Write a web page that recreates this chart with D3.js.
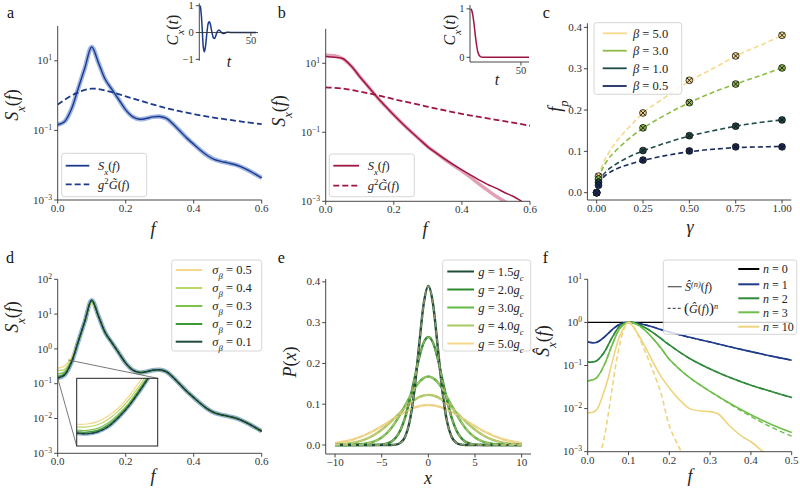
<!DOCTYPE html>
<html><head><meta charset="utf-8">
<script src="https://cdn.jsdelivr.net/npm/d3@7"></script>
<style>
body{margin:0;background:#fff;}
svg text{font-family:"Liberation Serif","DejaVu Serif",serif;}
</style></head><body>
<svg id="c" width="800" height="494" font-family="Liberation Serif, DejaVu Serif, serif"></svg>
<script>
// ================= DATA =================
// Panel a
const fGrid = [0,0.02,0.04,0.06,0.08,0.1,0.12,0.14,0.16,0.18,0.2,0.22,0.24,0.26,0.28,0.3,0.32,0.34,0.36,0.38,0.4,0.42,0.44,0.46,0.48,0.5,0.52,0.54,0.56,0.58,0.6];
const sxA = [0.145,0.178,0.4,1.58,6.3,25,8.7,2.9,1.48,0.76,0.39,0.25,0.21,0.22,0.245,0.25,0.22,0.15,0.095,0.06,0.04,0.027,0.019,0.0148,0.0129,0.0117,0.0105,0.0089,0.0072,0.0056,0.0043];
const fCoarse = [0,0.05,0.1,0.15,0.2,0.25,0.3,0.35,0.4,0.45,0.5,0.55,0.6];
const gA = [0.55,1.12,1.58,1.32,0.95,0.68,0.49,0.37,0.295,0.24,0.204,0.174,0.151];
const tA = [0,1,2,3,4,5,6,7,8,9,10,11,12,13,14,15,16,17,18,19,20,21,22,23,24,25,26,27,28,30,35,40,45,50,55];
const cA = [1,0.65,0.05,-0.55,-0.72,-0.55,-0.2,0.15,0.36,0.4,0.3,0.1,-0.08,-0.2,-0.22,-0.15,-0.04,0.05,0.09,0.08,0.04,0,-0.03,-0.04,-0.03,-0.01,0.01,0.015,0.01,0,0,0,0,0,0];
// Panel b
const fB = [0,0.025,0.05,0.075,0.1,0.125,0.15,0.175,0.2,0.225,0.25,0.275,0.3,0.325,0.35,0.375,0.4,0.425,0.45,0.475,0.5,0.525,0.55,0.575,0.6];
const sxB = [15.8,15,13.8,8.3,4.1,2.1,1.07,0.575,0.316,0.18,0.105,0.063,0.038,0.025,0.0166,0.0115,0.0081,0.0058,0.0042,0.0031,0.0024,0.0018,0.0014,0.001,0.00072];
const simB = [17,16.5,13.5,8.3,4.1,2.1,1.07,0.575,0.316,0.18,0.105,0.063,0.038,0.025,0.0163,0.011,0.0075,0.005,0.0032,0.0021,0.0014,0.001,0.0007,0.0005,0.0004];
const gB = [2.0,1.85,1.51,1.2,0.91,0.71,0.55,0.43,0.34,0.28,0.23,0.19,0.155];
const tB = [0,1,2,3,4,5,6,7,8,9,10,12,15,20,30,40,50,58];
const cB = [1,0.97,0.88,0.74,0.56,0.38,0.23,0.12,0.06,0.025,0.01,0,0,0,0,0,0,0];
// Panel c
const betaLabels = ["5.0","3.0","1.0","0.5"];
const gammaPts = [0,0.01,0.25,0.5,0.75,1.0];
const fpPts = [
  [0.0,0.04,0.193,0.272,0.331,0.381],
  [0.0,0.033,0.157,0.218,0.263,0.302],
  [0.0,0.025,0.102,0.138,0.161,0.176],
  [0.0,0.018,0.079,0.101,0.111,0.111]];
const gammaFit = [0.01,0.03,0.06,0.1,0.15,0.2,0.25,0.35,0.5,0.65,0.75,0.9,1.0];
const fpFit = [
  [0.038,0.066,0.093,0.12,0.147,0.17,0.193,0.225,0.27,0.306,0.331,0.36,0.381],
  [0.033,0.057,0.08,0.1,0.121,0.14,0.156,0.183,0.218,0.247,0.263,0.286,0.302],
  [0.025,0.04,0.055,0.068,0.081,0.092,0.101,0.117,0.137,0.152,0.161,0.171,0.176],
  [0.02,0.034,0.046,0.056,0.065,0.072,0.078,0.088,0.099,0.106,0.109,0.111,0.112]];
// Panel d
const sigmaLabels = ["0.5","0.4","0.3","0.2","0.1"];
const dHead = [ // f = 0, 0.02, 0.04, 0.06, 0.08, 0.1
  [0.28,0.32,0.56,1.58,6.0,20],
  [0.24,0.26,0.5,1.58,6.1,21],
  [0.19,0.22,0.45,1.58,6.2,23],
  [0.16,0.19,0.42,1.58,6.3,24],
  [0.145,0.178,0.4,1.58,6.3,25]];
const dTail = [8.7,2.9,1.48,0.76,0.39,0.25,0.21,0.22,0.245,0.25,0.22,0.15,0.095,0.06,0.04,0.027,0.019,0.0148,0.0129,0.0117,0.0105,0.0089,0.0072,0.0056,0.0043];
const insetF = [0,0.004,0.008,0.012,0.016,0.02,0.024,0.028,0.032];
const insetS = [
  [0.213,0.214,0.223,0.246,0.285,0.35,0.45,0.58,0.72],
  [0.203,0.203,0.211,0.232,0.27,0.33,0.42,0.55,0.69],
  [0.192,0.191,0.198,0.218,0.255,0.31,0.4,0.52,0.66],
  [0.186,0.185,0.191,0.21,0.246,0.3,0.39,0.51,0.64],
  [0.182,0.18,0.186,0.204,0.24,0.295,0.38,0.5,0.63]];
// Panel e
const gLabels = ["1.5","2.0","3.0","4.0","5.0"];
const xE = [-10,-8,-6,-5,-4,-3.5,-3,-2.5,-2,-1.5,-1,-0.5,0,0.5,1,1.5,2,2.5,3,3.5,4,5,6,8,10];
const pE = [
  [0,0,0,0,0.0002,0.0011,0.0053,0.0196,0.058,0.133,0.242,0.346,0.39,0.346,0.242,0.133,0.058,0.0196,0.0053,0.0011,0.0002,0,0,0,0],
  [0,0,0.0001,0.0011,0.0078,0.0177,0.0364,0.0667,0.1096,0.161,0.2125,0.251,0.265,0.251,0.2125,0.161,0.1096,0.0667,0.0364,0.0177,0.0078,0.0011,0.0001,0,0],
  [0,0.0006,0.0069,0.0183,0.0407,0.0567,0.0757,0.0965,0.1178,0.1376,0.154,0.164,0.168,0.164,0.154,0.1376,0.1178,0.0965,0.0757,0.0567,0.0407,0.0183,0.0069,0.0006,0],
  [0.0011,0.0059,0.0222,0.0375,0.0575,0.0687,0.0802,0.0914,0.1017,0.1105,0.1173,0.1215,0.123,0.1215,0.1173,0.1105,0.1017,0.0914,0.0802,0.0687,0.0575,0.0375,0.0222,0.0059,0.0011],
  [0.0048,0.0142,0.0331,0.0461,0.0604,0.0677,0.0747,0.0811,0.0868,0.0916,0.0951,0.0973,0.098,0.0973,0.0951,0.0916,0.0868,0.0811,0.0747,0.0677,0.0604,0.0461,0.0331,0.0142,0.0048]];
// Panel f
const nLabels = ["0","1","2","3","10"];
const fF = [0,0.02,0.04,0.06,0.08,0.1,0.12,0.14,0.16,0.18,0.2,0.25,0.3,0.35,0.4,0.45,0.5];
const sN0 = [1,1,1,1,1,1,1,1,1,1,1,1,1,1,1,1,1];
const sN1 = [0.35,0.34,0.45,0.68,0.92,1.0,0.97,0.88,0.78,0.68,0.6,0.45,0.35,0.27,0.21,0.165,0.133];
const sN2 = [0.12,0.125,0.2,0.45,0.84,1.0,0.93,0.76,0.58,0.42,0.3,0.145,0.083,0.052,0.035,0.025,0.018];
const sN3 = [0.044,0.05,0.1,0.3,0.75,1.0,0.9,0.66,0.42,0.25,0.14,0.052,0.025,0.013,0.0072,0.0043,0.0028];
const gN3 = [0.044,0.05,0.1,0.3,0.75,1.0,0.9,0.66,0.42,0.25,0.14,0.052,0.025,0.0125,0.0066,0.0037,0.0023];
const f10 = [0,0.02,0.04,0.05,0.06,0.08,0.1,0.12,0.14,0.16,0.18,0.2,0.22,0.25,0.28,0.3,0.32,0.35,0.38,0.4,0.43,0.46];
const sN10 = [0.008,0.009,0.025,0.05,0.12,0.52,1.0,0.6,0.28,0.12,0.055,0.03,0.018,0.01,0.0088,0.0085,0.0075,0.0038,0.0022,0.0017,0.001,0.0006];
const f10d = [0.03,0.04,0.05,0.06,0.07,0.08,0.09,0.1,0.11,0.12,0.14,0.15,0.16,0.18,0.2,0.22,0.235];
const gN10 = [0.0008,0.002,0.007,0.03,0.12,0.35,0.75,1.0,0.85,0.6,0.22,0.13,0.075,0.022,0.004,0.0015,0.0008];

// ================= STYLE =================
const FONT = '"Liberation Serif","DejaVu Serif",serif';
const AX = '#333';
const navy = '#1c3a8e', navyL = '#87a3d9';
const crim = '#a01540', crimL = '#dc8fa7';
const cCols = ['#f6da8b','#8dbb46','#1f4b4a','#1b2b5e'];
const dCols = ['#f6d98a','#bcd66e','#7ec24d','#3e9a37','#1f4a3c'];
const eCols = ['#1e4d37','#2d8a2e','#62b946','#a9c963','#f4d98b'];
const fCols = ['#000000','#1e3a8a','#2f8a3a','#6fc04a','#eed47c'];

const svg = d3.select('#c');
const defs = svg.append('defs');
let clipN = 0;
function clip(x0,y0,x1,y1){
  const id='cl'+(clipN++);
  defs.append('clipPath').attr('id',id).append('rect').attr('x',x0).attr('y',y0).attr('width',x1-x0).attr('height',y1-y0);
  return id;
}
function txt(g,x,y,parts,o={}){
  const t=g.append('text').attr('x',x).attr('y',y).attr('font-family',FONT).attr('font-size',o.fs||12).attr('fill',o.fill||'#222').attr('text-anchor',o.anchor||'start');
  if(o.rot) t.attr('transform',`rotate(${o.rot},${x},${y})`);
  parts.forEach(p=>{
    if(typeof p==='string') p={t:p};
    const s=t.append('tspan').text(p.t);
    if(p.i) s.attr('font-style','italic');
    if(p.sub) s.attr('baseline-shift','sub').attr('font-size','70%');
    if(p.sup) s.attr('baseline-shift','super').attr('font-size','70%');
    if(p.fs) s.attr('font-size',p.fs);
  });
  return t;
}
function minus(s){return String(s).replace('-','\u2212');}
function axes(g,x,y,o){
  const fs=o.fs||11;
  const [xa,xb]=x.range(); const [ya,yb]=y.range();
  const sy = o.spineY!==undefined ? o.spineY : ya;
  g.append('line').attr('x1',xa).attr('x2',xb).attr('y1',sy).attr('y2',sy).attr('stroke',AX).attr('stroke-width',0.9);
  g.append('line').attr('x1',xa).attr('x2',xa).attr('y1',ya).attr('y2',yb).attr('stroke',AX).attr('stroke-width',0.9);
  (o.xt||[]).forEach(v=>{
    const px=x(v);
    g.append('line').attr('x1',px).attr('x2',px).attr('y1',sy).attr('y2',sy+3.5).attr('stroke',AX).attr('stroke-width',0.9);
    txt(g,px,sy+3.5+fs*0.78,[minus(o.xf(v))],{anchor:'middle',fs,fill:'#333'});
  });
  (o.yt||[]).forEach(v=>{
    const py=y(v);
    g.append('line').attr('x1',xa-3.5).attr('x2',xa).attr('y1',py).attr('y2',py).attr('stroke',AX).attr('stroke-width',0.9);
    let parts;
    if(o.log){ const e=Math.round(Math.log10(v)); parts=['10',{t:minus(e),sup:true}]; }
    else parts=[minus(o.yf(v))];
    txt(g,xa-5.5,py+fs*0.33,parts,{anchor:'end',fs,fill:'#333'});
  });
}
function path(g,xs,ys,x,y,st,cid){
  const data=xs.map((v,i)=>[v,ys[i]]);
  const ln=d3.line().x(d=>x(d[0])).y(d=>y(d[1])).curve(st.curve||d3.curveCatmullRom.alpha(0.5));
  return g.append('path').datum(data).attr('d',ln).attr('fill','none').attr('stroke',st.c)
    .attr('stroke-width',st.w||1.5).attr('stroke-dasharray',st.dash||null).attr('stroke-opacity',st.op||1)
    .attr('stroke-linecap',st.cap||'butt').attr('stroke-linejoin','round')
    .attr('clip-path',cid?`url(#${cid})`:null);
}
function legendBox(g,x,y,w,h){
  g.append('rect').attr('x',x).attr('y',y).attr('width',w).attr('height',h).attr('rx',2.5)
   .attr('fill','#fff').attr('fill-opacity',0.8).attr('stroke','#cccccc').attr('stroke-width',0.8);
}
function legLine(g,x1,x2,y,st){
  g.append('line').attr('x1',x1).attr('x2',x2).attr('y1',y).attr('y2',y).attr('stroke',st.c).attr('stroke-width',st.w||1.8)
   .attr('stroke-dasharray',st.dash||null).attr('stroke-opacity',st.op||1);
}
const fmt1=d3.format('.1f'), fmt2=d3.format('.2f');
const logT=[1e-3,1e-1,1e1];

// ================= PANEL a =================
{
  const g=svg.append('g');
  const x=d3.scaleLinear().domain([0,0.6]).range([57.7,261.7]);
  const y=d3.scaleLog().domain([1e-3,1e2]).range([200,26]);
  const cid=clip(57.7,20,262,200);
  path(g,fGrid,sxA,x,y,{c:navyL,w:4.5,op:0.8},cid);
  path(g,fCoarse,gA,x,y,{c:navy,w:1.8,dash:'6,3'},cid);
  path(g,fGrid,sxA,x,y,{c:navy,w:1.4},cid);
  axes(g,x,y,{xt:[0,0.2,0.4,0.6],xf:fmt1,yt:logT,log:true});
  txt(g,18,105,[{t:'S',i:true},{t:'x',i:true,sub:true},'(',{t:'f',i:true},')'],{fs:18,anchor:'middle',rot:-90});
  txt(g,153,235,[{t:'f',i:true}],{fs:18,anchor:'middle'});
  legendBox(g,61.7,153.3,85,43.4);
  legLine(g,65.7,89.3,165.7,{c:navy});
  txt(g,98,170,[{t:'S',i:true},{t:'x',i:true,sub:true},'(',{t:'f',i:true},')'],{fs:12.5});
  legLine(g,65.7,89.3,184.3,{c:navy,dash:'6,3'});
  txt(g,98,189,[{t:'g',i:true},{t:'2',sup:true},{t:'G\u0303',i:true},'(',{t:'f',i:true},')'],{fs:12.5});
  // inset
  const xi=d3.scaleLinear().domain([-1,57]).range([199.3,258]);
  const yi=d3.scaleLinear().domain([-1.05,1.09]).range([60.7,3.3]);
  path(g,tA,cA,xi,yi,{c:navy,w:1.5});
  axes(g,xi,yi,{spineY:yi(0),xt:[50],xf:d3.format('d'),yt:[-1,0,1],yf:d3.format('d'),fs:10.5});
  txt(g,178,30,[{t:'C',i:true},{t:'x',i:true,sub:true},'(',{t:'t',i:true},')'],{fs:16,anchor:'middle',rot:-90});
  txt(g,229,67,[{t:'t',i:true}],{fs:16,anchor:'middle'});
  txt(g,7,18,['a'],{fs:16,fill:'#111'});
}
// ================= PANEL b =================
{
  const g=svg.append('g');
  const x=d3.scaleLinear().domain([0,0.6]).range([325.7,530]);
  const y=d3.scaleLog().domain([1e-3,1e2]).range([201.3,28.8]);
  const cid=clip(325.7,20,531,201.3);
  path(g,fB,simB,x,y,{c:crimL,w:3.5,op:0.85},cid);
  path(g,fCoarse,gB,x,y,{c:crim,w:1.8,dash:'6,3'},cid);
  path(g,fB,sxB,x,y,{c:crim,w:1.5},cid);
  axes(g,x,y,{xt:[0,0.2,0.4,0.6],xf:fmt1,yt:logT,log:true});
  txt(g,285,111,[{t:'S',i:true},{t:'x',i:true,sub:true},'(',{t:'f',i:true},')'],{fs:18,anchor:'middle',rot:-90});
  txt(g,425,235,[{t:'f',i:true}],{fs:18,anchor:'middle'});
  legendBox(g,329.3,154,85,42.7);
  legLine(g,333.3,359,165.7,{c:crim});
  txt(g,367.7,170,[{t:'S',i:true},{t:'x',i:true,sub:true},'(',{t:'f',i:true},')'],{fs:12.5});
  legLine(g,333.3,359,185.7,{c:crim,dash:'6,3'});
  txt(g,367.7,190,[{t:'g',i:true},{t:'2',sup:true},{t:'G\u0303',i:true},'(',{t:'f',i:true},')'],{fs:12.5});
  const xi=d3.scaleLinear().domain([-0.7,58]).range([470,529]);
  const yi=d3.scaleLinear().domain([-0.097,1.08]).range([62,5]);
  path(g,tB,cB,xi,yi,{c:crim,w:1.5});
  axes(g,xi,yi,{xt:[50],xf:d3.format('d'),yt:[0,1],yf:d3.format('d'),fs:10.5});
  txt(g,455,30,[{t:'C',i:true},{t:'x',i:true,sub:true},'(',{t:'t',i:true},')'],{fs:16,anchor:'middle',rot:-90});
  txt(g,497,85,[{t:'t',i:true}],{fs:16,anchor:'middle'});
  txt(g,277.7,18,['b'],{fs:16,fill:'#111'});
}
// ================= PANEL c =================
{
  const g=svg.append('g');
  const x=d3.scaleLinear().domain([-0.05,1.05]).range([587.4,791.3]);
  const y=d3.scaleLinear().domain([-0.0177,0.41]).range([200,23.3]);
  fpFit.forEach((s,i)=>path(g,gammaFit,s,x,y,{c:cCols[i],w:1.6,dash:'5,3',curve:d3.curveMonotoneX}));
  fpPts.forEach((s,i)=>{
    gammaPts.forEach((gm,j)=>{
      const px=x(gm), py=y(s[j]);
      g.append('circle').attr('cx',px).attr('cy',py).attr('r',3.4).attr('fill',cCols[i]).attr('stroke','#111').attr('stroke-width',0.8);
      g.append('path').attr('d',`M${px-2.6},${py-2.6}L${px+2.6},${py+2.6}M${px-2.6},${py+2.6}L${px+2.6},${py-2.6}`).attr('stroke','#111').attr('stroke-width',0.9);
    });
  });
  axes(g,x,y,{xt:[0,0.25,0.5,0.75,1.0],xf:fmt2,yt:[0,0.1,0.2,0.3,0.4],yf:fmt1});
  txt(g,561,106,[{t:'f',i:true},{t:'p',i:true,sub:true}],{fs:18,anchor:'middle',rot:-90});
  txt(g,690,233,[{t:'\u03b3',i:true}],{fs:18,anchor:'middle'});
  legendBox(g,594,22.7,87.7,71.6);
  const ly=[33.3,50.7,68.3,86];
  betaLabels.forEach((b,i)=>{
    legLine(g,602.7,626.7,ly[i],{c:cCols[i],w:1.8});
    txt(g,633,ly[i]+4.3,[{t:'\u03b2',i:true},' = '+b],{fs:12.5});
  });
  txt(g,542.7,18,['c'],{fs:16,fill:'#111'});
}
// ================= PANEL d =================
{
  const g=svg.append('g');
  const x=d3.scaleLinear().domain([0,0.6]).range([57.7,261.7]);
  const y=d3.scaleLog().domain([1e-3,1e2]).range([453.3,279.3]);
  const cid=clip(57.7,270,262,453.3);
  const full=dHead.map(h=>h.concat(dTail));
  path(g,fGrid,full[4],x,y,{c:'#84aacb',w:4.5,op:0.9},cid);
  full.forEach((s,i)=>path(g,fGrid,s,x,y,{c:dCols[i],w:1.5},cid));
  path(g,fGrid,full[4],x,y,{c:'#1f3a35',w:1.2,dash:'3,2'},cid);
  axes(g,x,y,{xt:[0,0.2,0.4,0.6],xf:fmt1,yt:[1e-3,1e-2,1e-1,1e0,1e1,1e2],log:true});
  txt(g,18,317,[{t:'S',i:true},{t:'x',i:true,sub:true},'(',{t:'f',i:true},')'],{fs:18,anchor:'middle',rot:-90});
  txt(g,153,482,[{t:'f',i:true}],{fs:18,anchor:'middle'});
  // inset
  const ix0=76.7, ix1=157.7, iy0=378.3, iy1=446;
  const xi=d3.scaleLinear().domain([0,0.031]).range([ix0,ix1]);
  const yi=d3.scaleLog().domain([0.145,0.48]).range([iy1,iy0]);
  g.append('line').attr('x1',x(0.031)).attr('y1',y(0.48)).attr('x2',ix1).attr('y2',iy0).attr('stroke','#555').attr('stroke-width',0.8);
  g.append('line').attr('x1',x(0)).attr('y1',y(0.145)).attr('x2',ix0).attr('y2',iy1).attr('stroke','#555').attr('stroke-width',0.8);
  g.append('rect').attr('x',ix0).attr('y',iy0).attr('width',ix1-ix0).attr('height',iy1-iy0).attr('fill','#fff');
  const cidI=clip(ix0,iy0,ix1,iy1);
  path(g,insetF,insetS[4],xi,yi,{c:'#84aacb',w:4,op:0.9},cidI);
  insetS.forEach((s,i)=>path(g,insetF,s,xi,yi,{c:dCols[i],w:1.2},cidI));
  path(g,insetF,insetS[4],xi,yi,{c:'#1f3a35',w:1.1,dash:'3,2'},cidI);
  g.append('rect').attr('x',ix0).attr('y',iy0).attr('width',ix1-ix0).attr('height',iy1-iy0).attr('fill','none').attr('stroke','#222').attr('stroke-width',1);
  legendBox(g,171.7,260,90,91);
  const ly=[270,288,306,324,341.7];
  sigmaLabels.forEach((s,i)=>{
    legLine(g,175.7,202.3,ly[i],{c:dCols[i],w:2});
    txt(g,212.3,ly[i]+4.3,[{t:'\u03c3',i:true},{t:'\u03b2',i:true,sub:true},' = '+s],{fs:12.5});
  });
  txt(g,6,263,['d'],{fs:16,fill:'#111'});
}
// ================= PANEL e =================
{
  const g=svg.append('g');
  const x=d3.scaleLinear().domain([-11,11]).range([325.7,531]);
  const y=d3.scaleLinear().domain([-0.022,0.407]).range([454,279]);
  pE.slice().reverse().forEach((s,k)=>{
    const i=pE.length-1-k;
    path(g,xE,s,x,y,{c:eCols[i],w:2.4,curve:d3.curveMonotoneX});
  });
  pE.forEach((s,i)=>{
    path(g,xE,s,x,y,{c:d3.interpolateRgb(eCols[i],'#e0c890')(0.55),w:1.6,dash:'5,3',curve:d3.curveMonotoneX});
  });
  axes(g,x,y,{xt:[-10,-5,0,5,10],xf:d3.format('d'),yt:[0,0.1,0.2,0.3,0.4],yf:fmt1});
  txt(g,296,362,[{t:'P',i:true},'(',{t:'x',i:true},')'],{fs:18,anchor:'middle',rot:-90});
  txt(g,428,484,[{t:'x',i:true}],{fs:18,anchor:'middle'});
  legendBox(g,442.7,260,88,91);
  const ly=[271.5,289.5,307.5,325.5,343.5];
  gLabels.forEach((s,i)=>{
    legLine(g,447.3,474,ly[i],{c:eCols[i],w:2});
    txt(g,478.3,ly[i]+4.3,[{t:'g',i:true},' = '+s,{t:'g',i:true},{t:'c',i:true,sub:true}],{fs:12.5});
  });
  txt(g,277.7,263,['e'],{fs:16,fill:'#111'});
}
// ================= PANEL f =================
{
  const g=svg.append('g');
  const x=d3.scaleLinear().domain([0,0.5]).range([587.7,791.7]);
  const y=d3.scaleLog().domain([1e-3,1e1]).range([451.7,279.3]);
  const cid=clip(587.7,270,792,451.7);
  path(g,fF,sN0,x,y,{c:fCols[0],w:1.2},cid);
  path(g,fF,sN1,x,y,{c:fCols[1],w:1.6},cid);
  path(g,fF,sN1,x,y,{c:fCols[1],w:1.4,dash:'5,3'},cid);
  path(g,fF,sN2,x,y,{c:fCols[2],w:1.6},cid);
  path(g,fF,sN2,x,y,{c:fCols[2],w:1.4,dash:'5,3'},cid);
  path(g,fF,sN3,x,y,{c:fCols[3],w:1.6},cid);
  path(g,fF,gN3,x,y,{c:fCols[3],w:1.4,dash:'5,3'},cid);
  path(g,f10,sN10,x,y,{c:fCols[4],w:1.6},cid);
  path(g,f10d,gN10,x,y,{c:fCols[4],w:1.6,dash:'5,3'},cid);
  axes(g,x,y,{xt:[0,0.1,0.2,0.3,0.4,0.5],xf:fmt1,yt:[1e-3,1e-2,1e-1,1e0,1e1],log:true});
  txt(g,549,341,[{t:'\u015c',i:true},{t:'x',i:true,sub:true},'(',{t:'f',i:true},')'],{fs:18,anchor:'middle',rot:-90});
  txt(g,690,482,[{t:'f',i:true}],{fs:18,anchor:'middle'});
  legendBox(g,663.3,260,133.4,74.3);
  legLine(g,667.7,681.7,286.7,{c:'#555',w:1.2});
  txt(g,685,291,[{t:'\u015c',i:true},{t:'(n)',i:true,sup:true},'(',{t:'f',i:true},')'],{fs:12});
  legLine(g,667.7,681.7,308.3,{c:'#555',w:1.2,dash:'3,2'});
  txt(g,684,312.5,[{t:'(',fs:15},{t:'\u011c',i:true},'(',{t:'f',i:true},')',{t:')',fs:15},{t:'n',i:true,sup:true}],{fs:12});
  const ly=[269,284.3,298.3,312.3,326.7];
  nLabels.forEach((s,i)=>{
    legLine(g,738.3,759.3,ly[i],{c:fCols[i],w:2});
    txt(g,763,ly[i]+4.2,[{t:'n',i:true},' = '+s],{fs:12});
  });
  txt(g,542.7,263,['f'],{fs:16,fill:'#111'});
}
</script>
</body></html>
